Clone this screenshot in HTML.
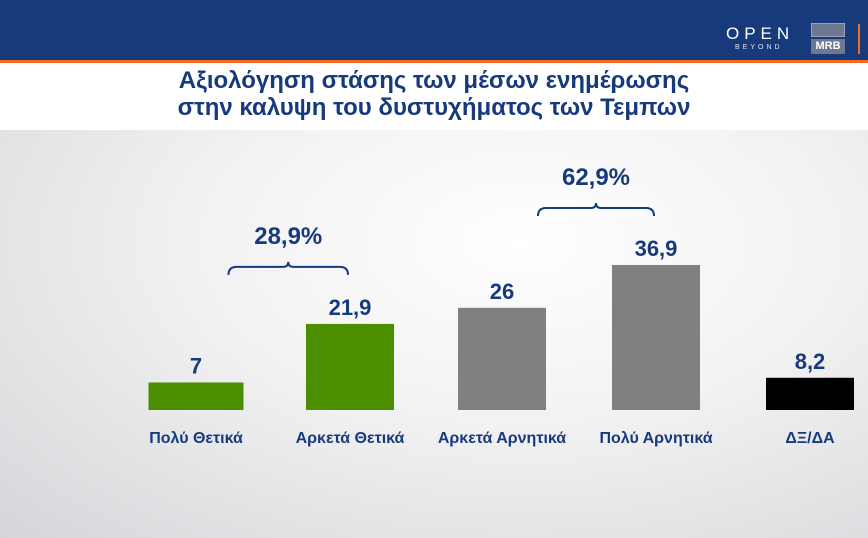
<!DOCTYPE html>
<html><head><meta charset="utf-8">
<style>
body{margin:0;width:868px;height:538px;overflow:hidden;font-family:"Liberation Sans",sans-serif;}
#root{position:relative;width:868px;height:538px;background:radial-gradient(ellipse at 60% 45%,#ffffff 0%,#f1f1f2 45%,#d5d6d9 100%);}
.hdr{position:absolute;left:0;top:0;width:868px;height:60px;background:#163a7a;}
.orl{position:absolute;left:0;top:60px;width:868px;height:3px;background:#f26b21;}
.ttl{position:absolute;left:0;top:63px;width:868px;height:67px;background:#fff;text-align:center;color:#173a7d;font-weight:bold;font-size:24px;line-height:27px;padding-top:4px;box-sizing:border-box;}
</style></head><body>
<div id="root">
<div class="hdr">
 <div style="position:absolute;left:726px;top:24px;color:#fff;font-size:17px;letter-spacing:5px;">OPEN</div>
 <div style="position:absolute;left:735px;top:44px;color:#dfe4ef;font-size:7px;letter-spacing:3px;">BEYOND</div>
 <div style="position:absolute;left:811px;top:23px;width:34px;height:32px;">
  <div style="height:14px;background:#6d7890;border:1px solid #9aa3b5;box-sizing:border-box;"></div>
  <div style="margin-top:2px;height:15px;background:#6d7890;color:#fff;font-weight:bold;font-size:11px;text-align:center;line-height:15px;">MRB</div>
 </div>
 <div style="position:absolute;left:858px;top:24px;width:2px;height:30px;background:#f26b21;"></div>
</div>
<div class="orl"></div>
<div class="ttl">Αξιολόγηση στάσης των μέσων ενημέρωσης<br>στην καλυψη του δυστυχήματος των Τεμπων</div>
<svg id="chart" width="868" height="538" style="position:absolute;left:0;top:0"></svg>
</div>
<script>
const categories=["Πολύ Θετικά","Αρκετά Θετικά","Αρκετά Αρνητικά","Πολύ Αρνητικά","ΔΞ/ΔΑ"];
const values=[7,21.9,26,36.9,8.2];
const labels=["7","21,9","26","36,9","8,2"];
const colors=["#4b8f00","#4b8f00","#808080","#808080","#000000"];
const groupLabels=["28,9%","62,9%"];
const groupMembers=[[0,1],[2,3]];
const NS="http://www.w3.org/2000/svg";
const svg=document.getElementById("chart");
const baseY=410, scale=3.93;
const centers=[196,350,502,656,810], widths=[95,88,88,88,88];
function y(v){return baseY-v*scale;}
function mk(t,a){const e=document.createElementNS(NS,t);for(const k in a)e.setAttribute(k,a[k]);svg.appendChild(e);return e;}
values.forEach((v,i)=>{
 const r=mk("rect",{x:centers[i]-widths[i]/2,y:y(v),width:widths[i],height:v*scale,fill:colors[i]});
 
 
 const t=mk("text",{x:centers[i],y:y(v)-9,"text-anchor":"middle","font-size":"22","font-weight":"bold",fill:"#173a7d","font-family":"Liberation Sans, sans-serif"});
 t.textContent=labels[i];
 
 
 const c=mk("text",{x:centers[i],y:443,"text-anchor":"middle","font-size":"16","font-weight":"bold",fill:"#173a7d","font-family":"Liberation Sans, sans-serif"});
 c.textContent=categories[i];
 
 
});
groupMembers.forEach((g,k)=>{
 const x1=centers[g[0]]-widths[g[0]]/2+80, x2=centers[g[1]]+widths[g[1]]/2-46;
 const top=Math.min(...g.map(i=>y(values[i])));
 const by=top-60, mid=(x1+x2)/2;
 const p=mk("path",{d:`M${x1},${by+11} Q${x1},${by+3} ${x1+8},${by+3} L${mid-5},${by+3} Q${mid},${by+3} ${mid},${by-2} Q${mid},${by+3} ${mid+5},${by+3} L${x2-8},${by+3} Q${x2},${by+3} ${x2},${by+11}`,fill:"none",stroke:"#173a7d","stroke-width":"2"});
 
 
 const t=mk("text",{x:mid,y:by-20,"text-anchor":"middle","font-size":"24","font-weight":"bold",fill:"#173a7d","font-family":"Liberation Sans, sans-serif"});
 t.textContent=groupLabels[k];
 
 
});
</script>
</body></html>
